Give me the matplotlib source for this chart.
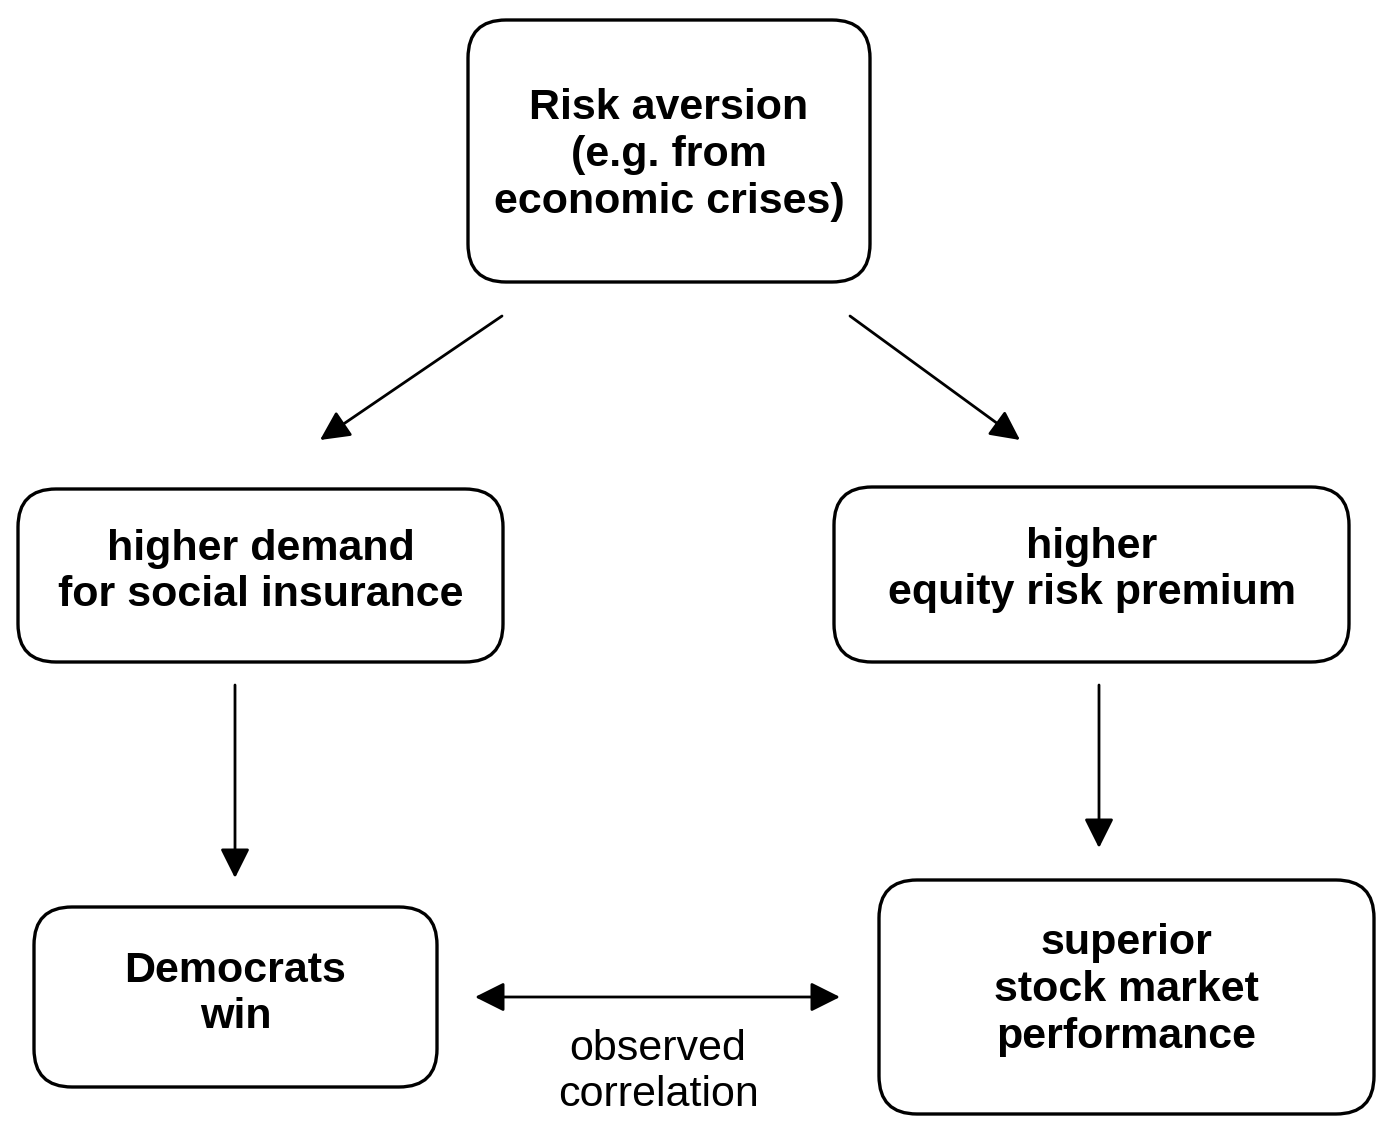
import matplotlib
matplotlib.use("Agg")
import matplotlib.pyplot as plt
from matplotlib.patches import FancyBboxPatch, FancyArrowPatch

# box labels (top, mid-left, mid-right, bottom-left, bottom-right)
labels = [
    "Risk aversion\n(e.g. from\neconomic crises)",
    "higher demand\nfor social insurance",
    "higher\nequity risk premium",
    "Democrats\nwin",
    "superior\nstock market\nperformance",
]
link_label = "observed\ncorrelation"

# layout in pixel coordinates: (x0, y0, x1, y1)
boxes = [
    (468, 20, 870, 282),
    (18, 489, 503, 662),
    (834, 487, 1349, 662),
    (34, 907, 437, 1087),
    (879, 880, 1374, 1114),
]
text_y = [155, 572, 570, 994, 990]
arrows = [
    ((502, 316), (320, 440)),
    ((850, 316), (1020, 440)),
    ((235, 685), (235, 878)),
    ((1099, 685), (1099, 848)),
]

fig = plt.figure(figsize=(14, 11.42), dpi=100)
ax = fig.add_axes([0, 0, 1, 1])
ax.set_xlim(0, 1400)
ax.set_ylim(1142, 0)
ax.axis("off")

for (x0, y0, x1, y1), lab, ty in zip(boxes, labels, text_y):
    r = 38
    ax.add_patch(FancyBboxPatch((x0 + r, y0 + r), x1 - x0 - 2 * r, y1 - y0 - 2 * r,
                                boxstyle=f"round,pad={r}", fc="white", ec="black", lw=2.4))
    ax.text((x0 + x1) / 2, ty, lab, ha="center", va="center", fontsize=31,
            fontweight="bold", family="Liberation Sans", linespacing=1.22)

head = "head_length=0.9,head_width=0.45"
for start, end in arrows:
    ax.add_patch(FancyArrowPatch(start, end, arrowstyle="-|>," + head,
                                 mutation_scale=20, color="black", lw=2, shrinkA=0, shrinkB=0))

ax.add_patch(FancyArrowPatch((475, 997), (840, 997), arrowstyle="<|-|>," + head,
                             mutation_scale=20, color="black", lw=2, shrinkA=0, shrinkB=0))
ax.text(658, 1072, link_label, ha="center", va="center", fontsize=31,
        family="Liberation Sans", linespacing=1.22)

fig.savefig("out.png", dpi=100)
